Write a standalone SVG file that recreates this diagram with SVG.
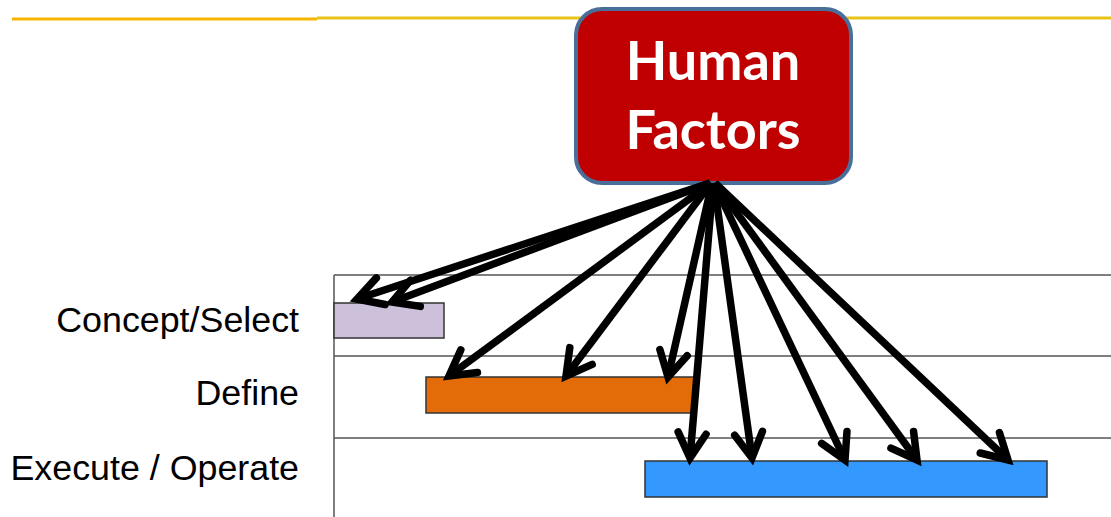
<svg xmlns="http://www.w3.org/2000/svg" width="1111" height="517" viewBox="0 0 1111 517">
<defs>
<style>
.grid{stroke:#555;stroke-width:1.5;fill:none}
.bar{stroke:#333;stroke-width:1.5}
.lbl{font-family:"Liberation Sans",Arial,sans-serif;font-size:35.8px;fill:#000;text-anchor:end}
.hf{font-family:Lato,"Open Sans",sans-serif;font-weight:bold;font-size:54px;fill:#fff;text-anchor:middle}
.arr{stroke:#000;stroke-width:7.5;fill:none;marker-end:url(#head)}
</style>
<marker id="head" markerUnits="userSpaceOnUse" viewBox="-34 -22 44 44" markerWidth="44" markerHeight="44" refX="0" refY="0" orient="auto">
<path d="M -25,-14 L 0,0 L -25,14" fill="none" stroke="#000" stroke-width="7.5" stroke-linecap="round" stroke-linejoin="miter"/>
</marker>
</defs>
<rect width="1111" height="517" fill="#fff"/>
<g id="header">
<line x1="12" y1="19" x2="317" y2="19" stroke="#F5B400" stroke-width="3"/>
<line x1="317" y1="18" x2="1111" y2="18" stroke="#E8C31A" stroke-width="3"/>
</g>
<g id="grid">
<path class="grid" d="M334,275 H1111 M334,356 H1111 M334,438 H1111 M334,275 V517"/>
</g>
<g id="concept">
<rect class="bar" x="334" y="303" width="110" height="35" fill="#CCC0DA"/>
<text class="lbl" x="299" y="332">Concept/Select</text>
</g>
<g id="define">
<rect class="bar" x="426" y="377" width="269" height="36" fill="#E36C09"/>
<text class="lbl" x="299" y="405">Define</text>
</g>
<g id="execute">
<rect class="bar" x="645" y="461" width="402" height="36" fill="#3399FF"/>
<text class="lbl" x="299" y="480">Execute / Operate</text>
</g>
<g id="human-factors">
<rect x="576" y="9" width="275" height="174" rx="26" ry="26" fill="#C00000" stroke="#4A6E9A" stroke-width="4"/>
<text class="hf" x="713" y="80">Human</text>
<text class="hf" x="713" y="149">Factors</text>
</g>
<g id="connectors">
<line class="arr" x1="710" y1="183" x2="357" y2="299"/>
<line class="arr" x1="710" y1="183" x2="392" y2="302"/>
<line class="arr" x1="711" y1="183" x2="449" y2="376"/>
<line class="arr" x1="711" y1="183" x2="566" y2="376"/>
<line class="arr" x1="712" y1="183" x2="668" y2="377"/>
<line class="arr" x1="713" y1="183" x2="690" y2="458"/>
<line class="arr" x1="714" y1="183" x2="752" y2="458"/>
<line class="arr" x1="714" y1="183" x2="845" y2="460"/>
<line class="arr" x1="715" y1="183" x2="917" y2="460"/>
<line class="arr" x1="715" y1="183" x2="1008" y2="460"/>
</g>
</svg>
